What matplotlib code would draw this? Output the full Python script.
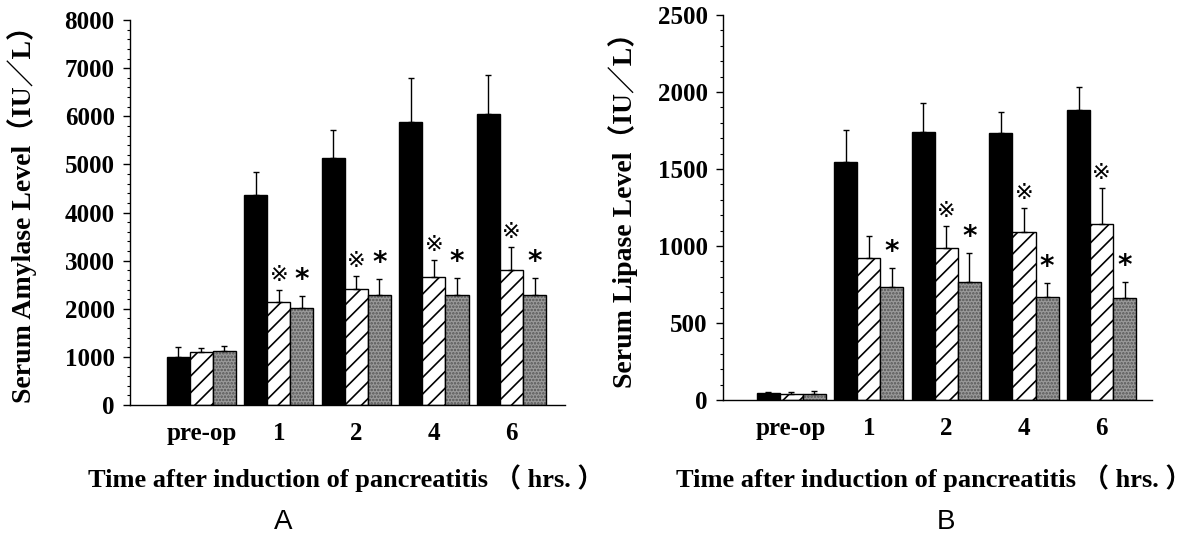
import numpy as np
import matplotlib.pyplot as plt
from matplotlib.ticker import MultipleLocator

plt.rcParams['hatch.linewidth'] = 1.2

groups = ['pre-op', '1', '2', '4', '6']

# Serum amylase (IU/L): control (black), treatment A (hatched), treatment B (grey)
amy_black = [1000, 4370, 5140, 5890, 6040]
amy_black_err = [200, 480, 580, 910, 820]
amy_hatch = [1100, 2140, 2410, 2670, 2800]
amy_hatch_err = [90, 250, 270, 340, 490]
amy_grey = [1120, 2010, 2290, 2290, 2290]
amy_grey_err = [110, 260, 320, 350, 350]
amy_hatch_sig = [False, True, True, True, True]
amy_grey_sig = [False, True, True, True, True]

# Serum lipase (IU/L)
lip_black = [45, 1547, 1742, 1732, 1883]
lip_black_err = [10, 206, 185, 140, 150]
lip_hatch = [42, 924, 985, 1089, 1141]
lip_hatch_err = [10, 143, 145, 156, 234]
lip_grey = [40, 732, 764, 671, 660]
lip_grey_err = [18, 123, 189, 91, 108]
lip_hatch_sig = [False, False, True, True, True]
lip_grey_sig = [False, True, True, True, True]

W, H = 1197, 547
fig = plt.figure(figsize=(W / 100, H / 100), dpi=100)

SERIF = ['Liberation Serif', 'Noto Sans CJK SC']
MARK = ['DejaVu Sans', 'Noto Sans CJK SC']


def px(x, y):
    return x / W, 1 - y / H


def panel(rect, black, black_err, hatch, hatch_err, grey, grey_err,
          hatch_sig, grey_sig, ymax, major, minor, xlim, mark_off):
    ax = fig.add_axes(rect)
    x = np.arange(len(groups))
    w = 0.297
    eb = dict(ecolor='black', elinewidth=1.0, capsize=2, capthick=1.0)
    zeros = np.zeros(len(groups))
    ax.bar(x - w, black, w, color='black', edgecolor='black', linewidth=1,
           yerr=[zeros, black_err], error_kw=eb, zorder=2)
    ax.bar(x, hatch, w, color='white', edgecolor='black', linewidth=1,
           hatch='//', yerr=[zeros, hatch_err], error_kw=eb, zorder=2)
    ax.bar(x + w, grey, w, color='#9a9a9a', edgecolor='#555555', linewidth=0,
           hatch='.....', zorder=2)
    ax.bar(x + w, grey, w, color='none', edgecolor='black', linewidth=1,
           yerr=[zeros, grey_err], error_kw=eb, zorder=3)

    for i in range(len(groups)):
        if hatch_sig[i]:
            ax.text(x[i], hatch[i] + hatch_err[i] + mark_off, '\u203b',
                    ha='center', va='bottom', fontsize=16, family=MARK)
        if grey_sig[i]:
            ax.text(x[i] + w, grey[i] + grey_err[i] + mark_off * 0.4, '*',
                    ha='center', va='bottom', fontsize=20,
                    fontweight='bold', family=MARK)

    ax.set_xlim(*xlim)
    ax.set_ylim(0, ymax)
    ax.yaxis.set_major_locator(MultipleLocator(major))
    ax.yaxis.set_minor_locator(MultipleLocator(minor))
    ax.set_xticks(x)
    ax.set_xticklabels(groups)
    for s in ('top', 'right'):
        ax.spines[s].set_visible(False)
    for s in ('left', 'bottom'):
        ax.spines[s].set_linewidth(1.0)
    ax.tick_params(axis='x', length=0, pad=12)
    ax.tick_params(axis='y', which='major', length=5, width=1, direction='out', pad=6)
    ax.tick_params(axis='y', which='minor', length=2.5, width=0.8, direction='out')
    for lab in ax.get_xticklabels() + ax.get_yticklabels():
        lab.set_family(SERIF)
        lab.set_fontweight('bold')
        lab.set_fontsize(18)
    return ax


axA = panel([130 / W, 142 / H, 435 / W, 385 / H],
            amy_black, amy_black_err, amy_hatch, amy_hatch_err,
            amy_grey, amy_grey_err, amy_hatch_sig, amy_grey_sig,
            8000, 1000, 200, (-0.92, 4.69), 100)
axB = panel([723 / W, 147 / H, 429 / W, 385 / H],
            lip_black, lip_black_err, lip_hatch, lip_hatch_err,
            lip_grey, lip_grey_err, lip_hatch_sig, lip_grey_sig,
            2500, 500, 100, (-0.88, 4.65), 32)

fig.text(*px(22, 208), 'Serum Amylase Level\uff08IU\uff0fL\uff09', rotation=90,
         ha='center', va='center', fontsize=20, fontweight='bold', family=SERIF)
fig.text(*px(623, 203), 'Serum Lipase Level\uff08IU\uff0fL\uff09', rotation=90,
         ha='center', va='center', fontsize=20, fontweight='bold', family=SERIF)

xlabel = 'Time after induction of pancreatitis \uff08 hrs. \uff09'
fig.text(*px(346, 478), xlabel, ha='center', va='center', fontsize=19,
         fontweight='bold', family=SERIF)
fig.text(*px(934, 478), xlabel, ha='center', va='center', fontsize=19,
         fontweight='bold', family=SERIF)

fig.text(*px(283, 522), 'A', ha='center', va='center', fontsize=20,
         family=['Liberation Sans'])
fig.text(*px(946, 522), 'B', ha='center', va='center', fontsize=20,
         family=['Liberation Sans'])

fig.savefig('out.png', dpi=100)
